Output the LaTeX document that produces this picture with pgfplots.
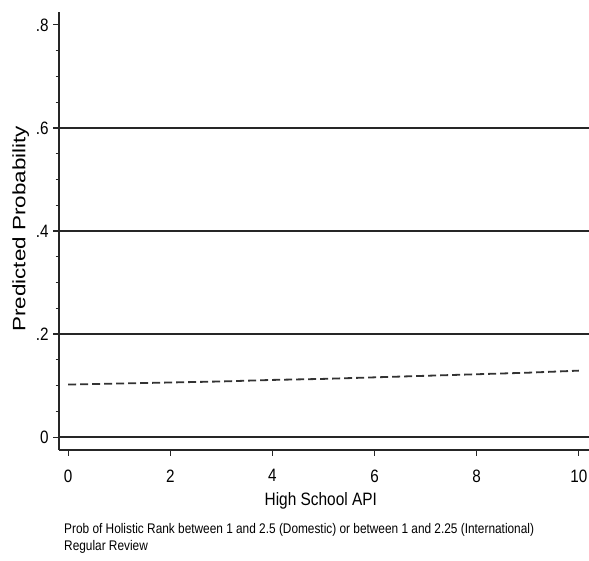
\documentclass[border=0pt]{standalone}
\usepackage{pgfplots}
\pgfplotsset{compat=1.18}
\usepackage{fontspec}
\setmainfont{Liberation Sans}
\newfontfamily\tickfont[FakeStretch=0.85]{Liberation Sans}
\newfontfamily\xlabfont[FakeStretch=0.86]{Liberation Sans}
\newfontfamily\ylabfont[FakeStretch=1.25]{Liberation Sans}
\newfontfamily\notefont[FakeStretch=0.85]{Liberation Sans}
\begin{document}
\begin{tikzpicture}
\path[use as bounding box] (0,0) rectangle (589bp,561bp);
\begin{axis}[
  at={(59bp,111bp)}, anchor=south west,
  scale only axis, width=530bp, height=438bp,
  xmin=-0.18, xmax=10.2, ymin=-0.025, ymax=0.825,
  axis x line*=bottom, axis y line*=left,
  axis line style={line width=1.4bp, black!85},
  xtick={0,2,4,6,8,10}, xticklabels={0,2,4,6,8,10},
  ytick={0,0.2,0.4,0.6,0.8}, yticklabels={0,.2,.4,.6,.8},
  minor y tick num=3,
  tick align=outside, xtick pos=left, ytick pos=left,
  major tick length=6bp, minor tick length=3.5bp,
  every tick/.style={line width=1.2bp, black!85},
  tick label style={font=\tickfont\fontsize{18}{18}\selectfont},
  xticklabel style={yshift=-10bp},
  yticklabel style={xshift=-1bp},
  xlabel={\xlabfont\fontsize{18}{18}\selectfont High School API},
  xlabel style={at={(axis description cs:0.494,-0.117)}, anchor=center},
  ylabel={\ylabfont\fontsize{18}{18}\selectfont Predicted Probability},
  ylabel style={at={(axis description cs:-0.072,0.505)}, anchor=center},
  clip=false,
]
\pgfplotsinvokeforeach{0,0.2,0.4,0.6}{
  \draw[black!85, line width=2.2bp] (axis cs:-0.18,#1) -- (axis cs:10.2,#1);
}
\addplot[black!80, line width=1.8bp, dash pattern=on 8bp off 4bp] coordinates {
(0,0.102) (1,0.104) (2,0.106) (3,0.108) (4,0.111) (5,0.113) (6,0.116) (7,0.119) (8,0.122) (9,0.125) (10,0.129)
};
\end{axis}
\node[anchor=north west, align=left, inner sep=0pt, font=\notefont\fontsize{14}{17}\selectfont] at (64bp,38bp)
 {Prob of Holistic Rank between 1 and 2.5 (Domestic) or between 1 and 2.25 (International)\\Regular Review};
\end{tikzpicture}
\end{document}
